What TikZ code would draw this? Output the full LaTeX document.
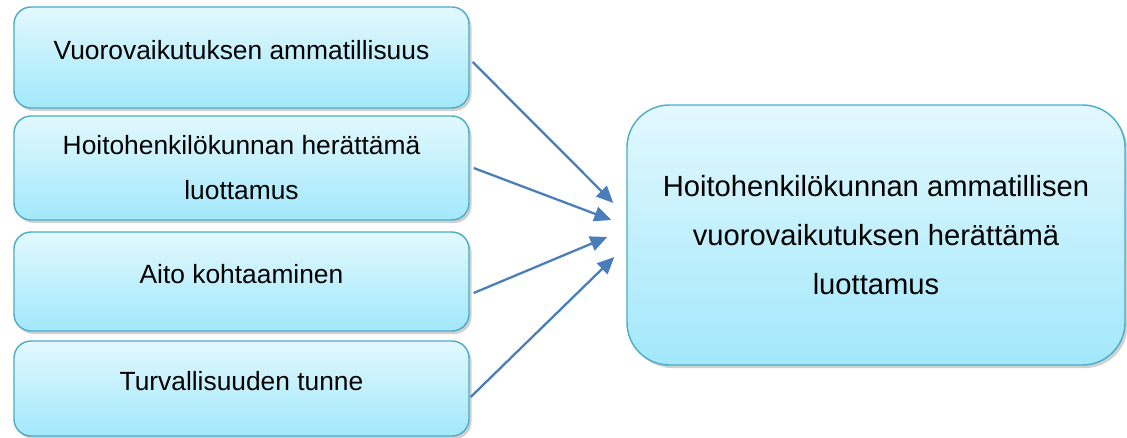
\documentclass[tikz,border=0pt]{standalone}
\usepackage{fontspec}
\setmainfont{Liberation Sans}
\usepackage{xcolor}
\usepackage{tikz}
\usetikzlibrary{arrows.meta,positioning,calc,shadows}
\definecolor{cTop}{HTML}{E2F8FE}
\definecolor{cBottom}{HTML}{A2E8FB}
\definecolor{cEdge}{HTML}{4BACC6}
\definecolor{cArrow}{HTML}{4A7EBB}
\tikzset{
  factor/.style={draw=cEdge, line width=0.8pt, rounded corners=0.34cm, align=center,
                 top color=cTop, bottom color=cBottom, minimum width=9.1cm,
                 font=\fontsize{15}{25.6}\selectfont,
                 drop shadow={shadow xshift=0.05cm, shadow yshift=-0.06cm, opacity=0.3, fill=black!60}},
  result/.style={draw=cEdge, line width=0.8pt, rounded corners=0.85cm, align=center,
                 top color=cTop, bottom color=cBottom, minimum width=9.96cm, minimum height=5.2cm,
                 font=\fontsize{16.6}{28}\selectfont,
                 drop shadow={shadow xshift=0.05cm, shadow yshift=-0.06cm, opacity=0.3, fill=black!60}},
  arrow/.style={-{Triangle[length=3.4mm,width=3mm]}, line width=1.3pt, draw=cArrow},
}
\begin{document}
\begin{tikzpicture}
  \useasboundingbox (0,0) rectangle (22.54,-8.74);
  % vaikuttavat tekijat
  \node[factor, minimum height=2.02cm, text depth=0.3cm] (b1) at (4.83,-1.15) {Vuorovaikutuksen ammatillisuus};
  \node[factor, minimum height=2.08cm] (b2) at (4.83,-3.36) {Hoitohenkilökunnan herättämä\\luottamus};
  \node[factor, minimum height=1.98cm, text depth=0.3cm] (b3) at (4.83,-5.63) {Aito kohtaaminen};
  \node[factor, minimum height=1.90cm, text depth=0.3cm] (b4) at (4.83,-7.77) {Turvallisuuden tunne};
  % tulos
  \node[result] (goal) at (17.52,-4.70) {Hoitohenkilökunnan ammatillisen\\vuorovaikutuksen herättämä\\luottamus};
  \coordinate (t1) at ($(goal.west)+(-0.26,0.64)$);
  \coordinate (t2) at ($(goal.west)+(-0.30,0.30)$);
  \coordinate (t3) at ($(goal.west)+(-0.38,-0.04)$);
  \coordinate (t4) at ($(goal.west)+(-0.24,-0.44)$);
  \draw[arrow] ([shift={(0.06,-0.09)}]b1.east) -- (t1);
  \draw[arrow] ([shift={(0.08,0)}]b2.east) -- (t2);
  \draw[arrow] ([shift={(0.08,-0.23)}]b3.east) -- (t3);
  \draw[arrow] ([shift={(0.02,-0.17)}]b4.east) -- (t4);
\end{tikzpicture}
\end{document}
